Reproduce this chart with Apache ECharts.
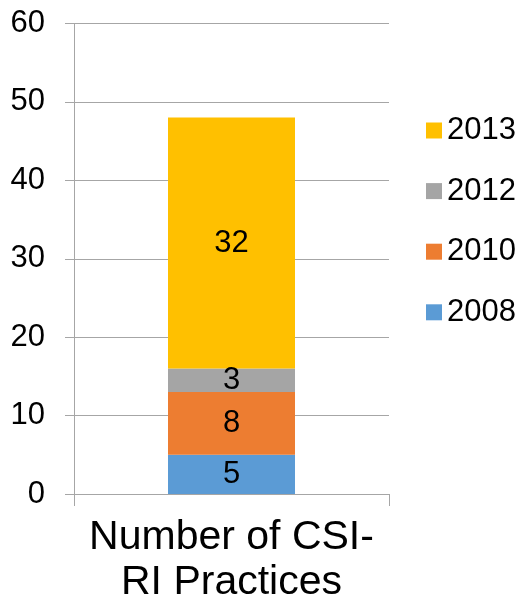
<!DOCTYPE html>
<html>
<head>
<meta charset="utf-8">
<script src="https://cdn.jsdelivr.net/npm/echarts@6/dist/echarts.min.js"></script>
<style>
  html, body { margin: 0; padding: 0; background: #fff; }
  #chart { width: 522px; height: 611px; }
</style>
</head>
<body>
<div id="chart"></div>
<script>
const categories = ['Number of CSI-\nRI Practices']
const years = ['2008', '2010', '2012', '2013']
const values2008 = [5]
const values2010 = [8]
const values2012 = [3]
const values2013 = [32]
const colors = ['#5b9bd5', '#ed7d31', '#a5a5a5', '#ffc000']
const yTicks = { min: 0, max: 60, interval: 10 }

const font = "'Liberation Sans', Arial, sans-serif"
const gridColor = '#a6a6a6'

const seriesValues = [values2008, values2010, values2012, values2013]

const chart = echarts.init(document.getElementById('chart'), null, { renderer: 'canvas' })

const option = {
  animation: false,
  textStyle: { fontFamily: font },
  grid: {
    left: 74,
    right: 133,
    top: 23.5,
    bottom: 117,
    containLabel: false
  },
  legend: {
    orient: 'vertical',
    left: 421,
    top: 110,
    itemWidth: 16,
    itemHeight: 16,
    itemGap: 29.6,
    icon: 'rect',
    data: ['2013', '2012', '2010', '2008'],
    textStyle: {
      fontFamily: font,
      fontSize: 31,
      color: '#000'
    }
  },
  xAxis: {
    type: 'category',
    data: categories,
    axisLine: { lineStyle: { color: gridColor, width: 1 } },
    axisTick: { show: true, length: 12, lineStyle: { color: gridColor } },
    axisLabel: {
      color: '#000',
      fontFamily: font,
      fontSize: 41,
      lineHeight: 45,
      margin: 21
    }
  },
  yAxis: {
    type: 'value',
    min: yTicks.min,
    max: yTicks.max,
    interval: yTicks.interval,
    axisLine: { show: true, lineStyle: { color: gridColor, width: 1 } },
    axisTick: { show: true, length: 9, lineStyle: { color: gridColor } },
    splitLine: { lineStyle: { color: gridColor, width: 1 } },
    axisLabel: {
      color: '#000',
      fontFamily: font,
      fontSize: 31,
      margin: 29
    }
  },
  series: years.map((y, i) => ({
    name: y,
    type: 'bar',
    stack: 'total',
    barWidth: 127,
    data: seriesValues[i],
    itemStyle: { color: colors[i] },
    label: {
      show: true,
      position: 'inside',
      color: '#000',
      fontFamily: font,
      fontSize: 31
    }
  }))
}

chart.setOption(option)
</script>
</body>
</html>
